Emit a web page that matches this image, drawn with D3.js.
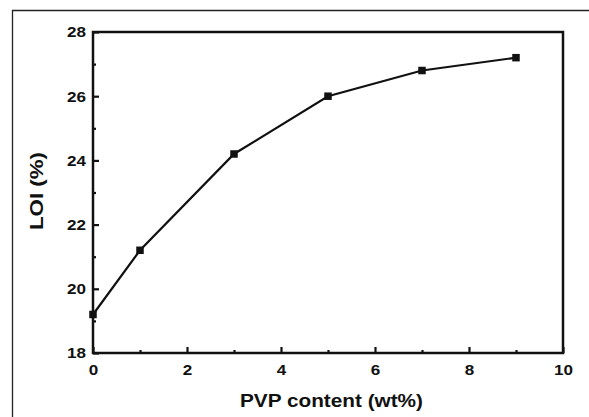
<!DOCTYPE html>
<html>
<head>
<meta charset="utf-8">
<script src="https://cdn.jsdelivr.net/npm/d3@7"></script>
<style>
  html, body { margin: 0; padding: 0; background: #fff; }
  svg { display: block; }
  text { font-family: "Liberation Sans", Arial, sans-serif; font-weight: bold; fill: #111; }
</style>
</head>
<body>
<svg id="chart" width="589" height="417"></svg>
<script>
// PVP content (wt%) and limiting oxygen index (%)
const pvpContent = [0, 1, 3, 5, 7, 9];
const loiValues = [19.2, 21.2, 24.2, 26.0, 26.8, 27.2];
const xMajorTicks = [0, 2, 4, 6, 8, 10];
const xMinorTicks = [1, 3, 5, 7, 9];
const yMajorTicks = [18, 20, 22, 24, 26, 28];
const yMinorTicks = [19, 21, 23, 25, 27];

const svg = d3.select("#chart");
const W = 589, H = 417;
const plot = { left: 93, right: 563, top: 32, bottom: 353 };

const x = d3.scaleLinear().domain([0, 10]).range([plot.left, plot.right]);
const y = d3.scaleLinear().domain([18, 28]).range([plot.bottom, plot.top]);

// outer frame of the figure
svg.append("path")
  .attr("d", `M12.5,${H} V10.5 H${W}`)
  .attr("fill", "none").attr("stroke", "#222").attr("stroke-width", 1.3);

// inward ticks
const xAxis = d3.axisBottom(x).tickValues(xMajorTicks).tickSize(-6).tickPadding(11).tickFormat(d3.format("d"));
const xAxisMinor = d3.axisBottom(x).tickValues(xMinorTicks).tickSize(-3).tickFormat("");
const yAxis = d3.axisLeft(y).tickValues(yMajorTicks).tickSize(-6).tickPadding(7).tickFormat(d3.format("d"));
const yAxisMinor = d3.axisLeft(y).tickValues(yMinorTicks).tickSize(-3).tickFormat("");

function styleAxis(g) {
  g.select(".domain").remove();
  g.selectAll(".tick line").attr("stroke", "#111").attr("stroke-width", 2.2);
  g.selectAll(".tick text")
    .attr("font-size", 15.5)
    .attr("fill", "#111")
    .attr("textLength", function () { return this.textContent.length * 9.5; })
    .attr("lengthAdjust", "spacingAndGlyphs");
}

svg.append("g").attr("transform", `translate(0,${plot.bottom})`).call(xAxis).call(styleAxis);
svg.append("g").attr("transform", `translate(0,${plot.bottom})`).call(xAxisMinor).call(styleAxis);
svg.append("g").attr("transform", `translate(${plot.left},0)`).call(yAxis).call(styleAxis);
svg.append("g").attr("transform", `translate(${plot.left},0)`).call(yAxisMinor).call(styleAxis);

// plot box
svg.append("rect")
  .attr("x", plot.left).attr("y", plot.top)
  .attr("width", plot.right - plot.left).attr("height", plot.bottom - plot.top)
  .attr("fill", "none").attr("stroke", "#111").attr("stroke-width", 2.5);

// data line
const pts = pvpContent.map((d, i) => [d, loiValues[i]]);
svg.append("path")
  .datum(pts)
  .attr("d", d3.line().x(d => x(d[0])).y(d => y(d[1])))
  .attr("fill", "none").attr("stroke", "#111").attr("stroke-width", 2.2);

// square markers
const ms = 7.5;
svg.selectAll("rect.marker").data(pts).enter().append("rect")
  .attr("class", "marker")
  .attr("x", d => x(d[0]) - ms / 2).attr("y", d => y(d[1]) - ms / 2)
  .attr("width", ms).attr("height", ms).attr("fill", "#111");

// axis titles
svg.append("text")
  .attr("x", 331.5).attr("y", 407)
  .attr("text-anchor", "middle").attr("font-size", 19)
  .attr("textLength", 183).attr("lengthAdjust", "spacingAndGlyphs")
  .text("PVP content (wt%)");

svg.append("text")
  .attr("transform", `translate(43,191) rotate(-90)`)
  .attr("text-anchor", "middle").attr("font-size", 18)
  .attr("textLength", 78).attr("lengthAdjust", "spacingAndGlyphs")
  .text("LOI (%)");
</script>
</body>
</html>
